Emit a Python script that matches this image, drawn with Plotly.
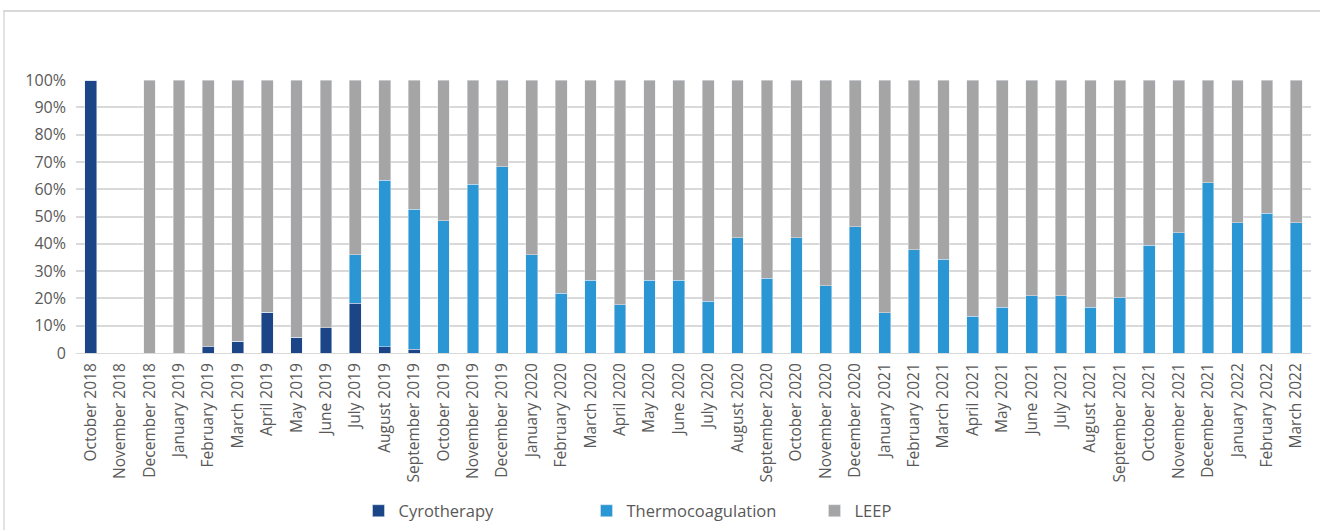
import plotly.graph_objects as go

months = ["October 2018", "November 2018", "December 2018", "January 2019", "February 2019",
          "March 2019", "April 2019", "May 2019", "June 2019", "July 2019", "August 2019",
          "September 2019", "October 2019", "November 2019", "December 2019", "January 2020",
          "February 2020", "March 2020", "April 2020", "May 2020", "June 2020", "July 2020",
          "August 2020", "September 2020", "October 2020", "November 2020", "December 2020",
          "January 2021", "February 2021", "March 2021", "April 2021", "May 2021", "June 2021",
          "July 2021", "August 2021", "September 2021", "October 2021", "November 2021",
          "December 2021", "January 2022", "February 2022", "March 2022"]

cyrotherapy = [100, 0, 0, 0, 2.2, 4.3, 14.9, 5.7, 9.3, 18.3, 2.2, 1.3, 0, 0, 0, 0,
               0, 0, 0, 0, 0, 0, 0, 0, 0, 0, 0, 0, 0, 0, 0, 0, 0, 0, 0, 0, 0, 0, 0, 0, 0, 0]
thermocoagulation = [0, 0, 0, 0, 0, 0, 0, 0, 0, 17.6, 61.0, 51.4, 48.4, 61.8, 68.2, 35.9,
                     21.8, 26.7, 17.6, 26.7, 26.7, 19.0, 42.2, 27.4, 42.2, 24.6, 46.3,
                     14.7, 37.9, 34.4, 13.4, 16.8, 21.0, 21.0, 16.8, 20.3, 39.4, 44.1,
                     62.4, 47.7, 51.2, 47.7]
leep = [0, 0, 100, 100, 97.8, 95.7, 85.1, 94.3, 90.7, 64.1, 36.8, 47.3, 51.6, 38.2, 31.8,
        64.1, 78.2, 73.3, 82.4, 73.3, 73.3, 81.0, 57.8, 72.6, 57.8, 75.4, 53.7, 85.3,
        62.1, 65.6, 86.6, 83.2, 79.0, 79.0, 83.2, 79.7, 60.6, 55.9, 37.6, 52.3, 48.8, 52.3]

y_ticks = [0, 10, 20, 30, 40, 50, 60, 70, 80, 90, 100]
y_tick_labels = ["0", "10%", "20%", "30%", "40%", "50%", "60%", "70%", "80%", "90%", "100%"]

FONT = "'Open Sans', Lato, Roboto, sans-serif"
TXT = "#595959"

fig = go.Figure()
fig.add_trace(go.Bar(x=months, y=cyrotherapy, name="Cyrotherapy", marker_color="#1B4586"))
fig.add_trace(go.Bar(x=months, y=thermocoagulation, name="Thermocoagulation", marker_color="#2A96D3"))
fig.add_trace(go.Bar(x=months, y=leep, name="LEEP", marker_color="#A5A5A5"))

W, H = 1320, 530
L, R, T, B = 76, 9, 80, 177
pw, ph = W - L - R, H - T - B

def px_x(x):
    return (x - L) / pw

def px_y(y):
    return (H - B - y) / ph

fig.update_layout(
    barmode="stack",
    bargap=0.6,
    width=W, height=H,
    margin=dict(l=L, r=R, t=T, b=B, autoexpand=False),
    paper_bgcolor="white",
    plot_bgcolor="white",
    font=dict(family=FONT, color=TXT, size=15),
    showlegend=True,
    legend=dict(
        orientation="h",
        x=0.5 + 7 / pw, xanchor="center",
        yref="container",
        y=(H - 511) / H, yanchor="middle",
        font=dict(size=16.5, color=TXT),
        entrywidth=183, entrywidthmode="pixels",
        itemwidth=30,
        traceorder="normal",
    ),
    xaxis=dict(
        tickangle=-90,
        tickfont=dict(size=15.5, color=TXT),
        showgrid=False,
        showline=True, linecolor="#D9D9D9", linewidth=1,
        ticks="",
        ticklabelstandoff=3,
        automargin=False,
    ),
    yaxis=dict(
        range=[0, 100],
        tickvals=y_ticks,
        ticktext=y_tick_labels,
        tickfont=dict(size=16, color=TXT),
        showgrid=True, gridcolor="#D9D9D9", gridwidth=1.5,
        zeroline=False,
        ticks="",
        ticklabelstandoff=9,
        automargin=False,
    ),
    shapes=[
        dict(type="line", xref="paper", yref="paper", x0=px_x(3), x1=px_x(1330),
             y0=px_y(11), y1=px_y(11), line=dict(color="#D9D9D9", width=2)),
        dict(type="line", xref="paper", yref="paper", x0=px_x(4), x1=px_x(4),
             y0=px_y(11), y1=px_y(540), line=dict(color="#D9D9D9", width=1.5)),
    ],
)

fig.write_html("out.html",
               config={"displayModeBar": False},
               post_script="document.body.style.margin='0px';document.body.style.padding='0px';")
